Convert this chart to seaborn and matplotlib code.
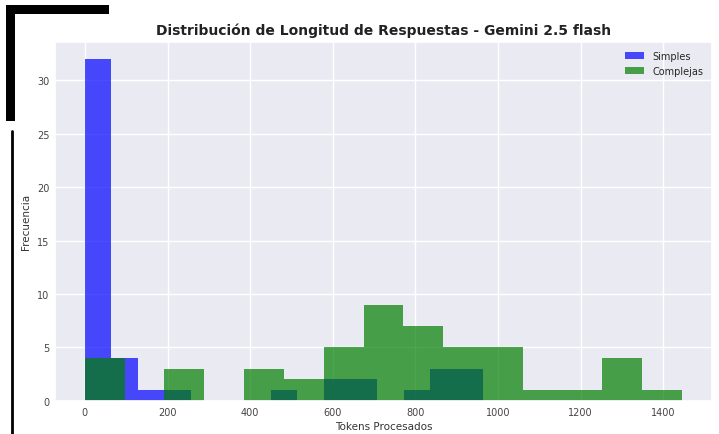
import numpy as np
import pandas as pd
import matplotlib
matplotlib.use("Agg")
import matplotlib.pyplot as plt
import seaborn as sns
from matplotlib.patches import Rectangle
from matplotlib.lines import Line2D

# Histogram bin counts
simples_counts = [32, 4, 1, 1, 0, 0, 0, 1, 0, 2, 2, 0, 1, 3, 3]
simples_range = (0, 964)
complejas_counts = [4, 0, 3, 0, 3, 2, 5, 9, 7, 5, 5, 1, 1, 4, 1]
complejas_range = (0, 1445)
series_labels = ["Simples", "Complejas"]
title = "Distribución de Longitud de Respuestas - Gemini 2.5 flash"
xlabel = "Tokens Procesados"
ylabel = "Frecuencia"


def centers(rng, n):
    edges = np.linspace(rng[0], rng[1], n + 1)
    return (edges[:-1] + edges[1:]) / 2


df_s = pd.DataFrame({"x": centers(simples_range, len(simples_counts)), "w": simples_counts})
df_c = pd.DataFrame({"x": centers(complejas_range, len(complejas_counts)), "w": complejas_counts})

sns.set_theme(style="darkgrid")
plt.rcParams['font.family'] = ['DejaVu Sans']

fig = plt.figure(figsize=(7.19, 4.35), dpi=100)
ax = fig.add_axes([0.0765, 0.0766, 0.9135, 0.8245])

sns.histplot(data=df_s, x="x", weights="w", bins=len(simples_counts), binrange=simples_range,
             color="blue", alpha=0.7, edgecolor="none", linewidth=0, label=series_labels[0], ax=ax)
sns.histplot(data=df_c, x="x", weights="w", bins=len(complejas_counts), binrange=complejas_range,
             color="green", alpha=0.7, edgecolor="none", linewidth=0, label=series_labels[1], ax=ax)

ax.set_title(title, fontsize=10, fontweight="bold", color="#222222", pad=6)
ax.set_xlabel(xlabel, fontsize=7.5, color="#333333", labelpad=3)
ax.set_ylabel(ylabel, fontsize=7.5, color="#333333", labelpad=4)
ax.tick_params(axis="x", labelsize=7, colors="#444444", length=0, pad=4.5)
ax.tick_params(axis="y", labelsize=7, colors="#444444", length=0, pad=4)
ax.set_xticks([0, 200, 400, 600, 800, 1000, 1200, 1400])
ax.set_yticks([0, 5, 10, 15, 20, 25, 30])
ax.legend(loc="upper right", fontsize=7, frameon=False)

# black frame fragments visible at left of the screenshot
fig.add_artist(Rectangle((6 / 719, 1 - 15 / 435), 103 / 719, 9 / 435, transform=fig.transFigure,
                         color="black", lw=0))
fig.add_artist(Rectangle((6 / 719, 1 - 122 / 435), 9 / 719, 116 / 435, transform=fig.transFigure,
                         color="black", lw=0))
fig.add_artist(Line2D([11.5 / 719, 11.5 / 719], [1 - 132 / 435, 0], transform=fig.transFigure,
                      color="black", lw=2))

fig.savefig("out.png", dpi=100)
